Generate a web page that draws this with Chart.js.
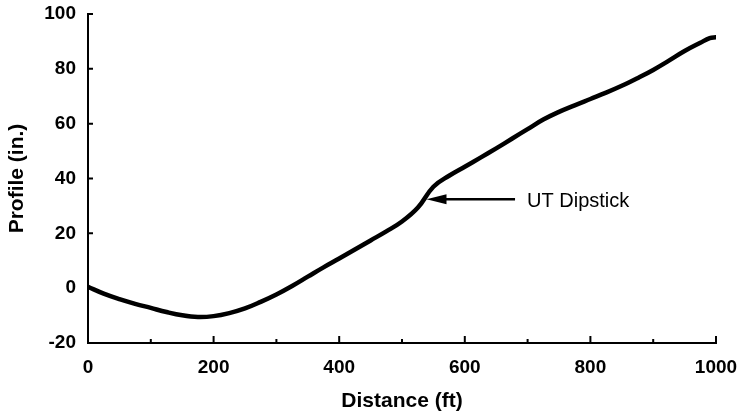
<!DOCTYPE html>
<html>
<head>
<meta charset="utf-8">
<script src="https://cdn.jsdelivr.net/npm/chart.js@4/dist/chart.umd.min.js"></script>
<style>
    html, body { margin: 0; padding: 0; background: #fff; }
    #wrap { width: 740px; height: 419px; }
</style>
</head>
<body>
<div id="wrap"><canvas id="profileChart" width="740" height="419"></canvas></div>
<script>
// profile along the track
var distance = [0, 25, 50, 75, 100, 125, 150, 175, 200, 225, 250, 275, 300, 325, 350, 375, 400,
    425, 450, 475, 500, 525, 550, 575, 600, 625, 650, 675, 700, 725, 750, 775, 800, 825, 850,
    875, 900, 925, 950, 975, 990, 1000];
var profile = [0.5, -2, -4, -5.7, -7.2, -8.7, -9.9, -10.5, -10.2, -9.1, -7.4, -5, -2.3, 0.8, 4.2, 7.6, 10.8,
    14.1, 17.4, 20.7, 24.3, 29.3, 37, 41, 44.3, 47.6, 51, 54.5, 58, 61.5, 64.3, 66.7, 69, 71.3, 73.8,
    76.6, 79.6, 83, 86.5, 89.5, 91.2, 91.5];

var xTicks = [0, 200, 400, 600, 800, 1000];
var yTicks = [-20, 0, 20, 40, 60, 80, 100];

// arrow label
var noteText = 'UT Dipstick';
var noteAt = {x: 539, y: 32.4};
var noteTail = 680;

var fontFamily = '"Liberation Sans", Arial, Helvetica, sans-serif';

var points = distance.map(function (d, i) {
    return {x: d, y: profile[i]};
});

function noLabelOverhang(scale) {
    scale.paddingTop = 0;
    scale.paddingBottom = 0;
    scale.paddingLeft = 0;
    scale.paddingRight = 0;
}

// inward tick marks + the arrow annotation
var extras = {
    id: 'extras',
    afterDraw: function (chart) {
        var ctx = chart.ctx;
        var xs = chart.scales.x, ys = chart.scales.y;
        var area = chart.chartArea;
        ctx.save();
        ctx.strokeStyle = '#000';
        ctx.lineWidth = 2;
        ctx.beginPath();
        for (var v = 100; v <= 1000; v += 100) {
            var px = xs.getPixelForValue(v);
            var len = (v % 200 === 0) ? 7 : 4;
            ctx.moveTo(px, area.bottom);
            ctx.lineTo(px, area.bottom - len);
        }
        yTicks.forEach(function (t) {
            if (t === -20) return;
            var py = ys.getPixelForValue(t);
            ctx.moveTo(area.left, py);
            ctx.lineTo(area.left + 5, py);
        });
        ctx.stroke();

        // arrow
        var tipX = xs.getPixelForValue(noteAt.x);
        var tipY = ys.getPixelForValue(noteAt.y);
        var tailX = xs.getPixelForValue(noteTail);
        ctx.lineWidth = 2.5;
        ctx.beginPath();
        ctx.moveTo(tipX + 16, tipY);
        ctx.lineTo(tailX, tipY);
        ctx.stroke();
        ctx.fillStyle = '#000';
        ctx.beginPath();
        ctx.moveTo(tipX, tipY);
        ctx.lineTo(tipX + 20, tipY - 5);
        ctx.lineTo(tipX + 20, tipY + 5);
        ctx.closePath();
        ctx.fill();

        ctx.font = '20px ' + fontFamily;
        ctx.textAlign = 'left';
        ctx.textBaseline = 'middle';
        ctx.fillText(noteText, tailX + 12, tipY + 2);
        ctx.restore();
    }
};

new Chart(document.getElementById('profileChart'), {
    type: 'line',
    data: {
        datasets: [
            {
                label: 'Profile',
                data: points,
                borderColor: '#000',
                borderWidth: 4.5,
                borderCapStyle: 'round',
                pointRadius: 0,
                fill: false,
                tension: 0.4
            }
        ]
    },
    options: {
        responsive: false,
        animation: false,
        layout: {padding: {top: 14, right: 24, left: 0, bottom: 0}},
        plugins: {
            legend: {display: false},
            tooltip: {enabled: false}
        },
        scales: {
            x: {
                type: 'linear',
                min: 0,
                max: 1000,
                afterBuildTicks: function (scale) {
                    scale.ticks = xTicks.map(function (v) { return {value: v}; });
                },
                afterFit: function (scale) {
                    scale.height = 76;
                    noLabelOverhang(scale);
                },
                border: {display: true, color: '#000', width: 2},
                grid: {display: true, drawOnChartArea: false, drawTicks: false, color: 'rgba(0,0,0,0)'},
                ticks: {
                    color: '#000',
                    padding: 13,
                    maxRotation: 0,
                    callback: function (v) { return String(v); },
                    font: {family: fontFamily, size: 19, weight: 'bold'}
                },
                title: {
                    display: true,
                    text: 'Distance (ft)',
                    color: '#000',
                    padding: {top: 0, bottom: 5},
                    font: {family: fontFamily, size: 21, weight: 'bold'}
                }
            },
            y: {
                type: 'linear',
                min: -20,
                max: 100,
                afterBuildTicks: function (scale) {
                    scale.ticks = yTicks.map(function (v) { return {value: v}; });
                },
                afterFit: function (scale) {
                    scale.width = 88;
                    noLabelOverhang(scale);
                },
                border: {display: true, color: '#000', width: 2},
                grid: {display: true, drawOnChartArea: false, drawTicks: false, color: 'rgba(0,0,0,0)'},
                ticks: {
                    color: '#000',
                    padding: 12,
                    callback: function (v) { return String(v); },
                    font: {family: fontFamily, size: 19, weight: 'bold'}
                },
                title: {
                    display: true,
                    text: 'Profile (in.)',
                    color: '#000',
                    padding: {top: 5, bottom: 0},
                    font: {family: fontFamily, size: 21, weight: 'bold'}
                }
            }
        }
    },
    plugins: [extras]
});
</script>
</body>
</html>
